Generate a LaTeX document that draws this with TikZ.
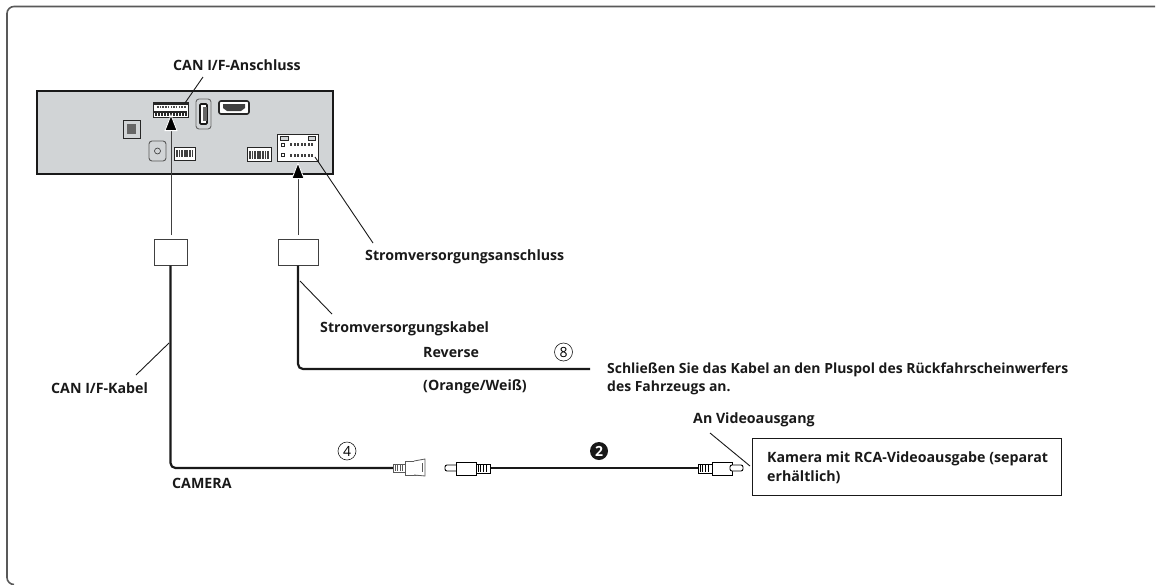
\documentclass[tikz,border=0pt]{standalone}
\usepackage{fontspec}
\setmainfont{Open Sans}
\usetikzlibrary{positioning, arrows.meta, calc}
\definecolor{panelgray}{rgb}{0.82,0.83,0.84}
\definecolor{plugline}{rgb}{0.35,0.35,0.35}
\tikzstyle{lbl}=[%
      font=\bfseries\fontsize{14.2}{19}\selectfont, inner sep=0pt, anchor=base west, text=black!90
]
\tikzstyle{hint}=[%
      lbl, font=\bfseries\fontsize{13.95}{19}\selectfont
]
\tikzstyle{cable}=[%
      draw=black!90, line width=2.2pt, rounded corners=5pt
]
\tikzstyle{leader}=[%
      draw=black!90, line width=0.9pt
]
\tikzstyle{port}=[%
      draw=black!85, fill=white, line width=0.9pt
]
\tikzstyle{clamp}=[%
      rectangle, draw=black!75, fill=white, line width=1pt, inner sep=0pt, minimum height=26pt
]
\tikzstyle{feed}=[%
      draw=black!75, line width=1pt, -{Triangle[length=17pt,width=13pt,color=white,fill=black,line width=0.8pt]}
]
\tikzstyle{ring}=[%
      circle, draw=black!90, line width=0.6pt, inner sep=0pt, minimum size=18pt,
      font=\fontsize{14}{14}\selectfont
]
\begin{document}
\begin{tikzpicture}[x=1pt, y=-1pt]
    \useasboundingbox (0,0) rectangle (1157,584);
    % only the top and left of the frame lie inside the page
    \draw[draw=black!65, line width=1.6pt, rounded corners=7pt] (1155,6.5) -- (7,6.5) -- (7,584.5) -- (14,584.5);

    % head unit
    \draw[draw=black!90, fill=panelgray, line width=1.1pt] (37,91) rectangle (333,174);
    \draw[port] (153,102) rectangle (188,117);
    \fill[black!85] (153,102) rectangle (188,104.5);
    \foreach \i in {0,...,10} \fill[black!70] (157+2.7*\i,106) rectangle +(1.5,2);
    \fill[black!85] (154,110.5) rectangle (187,113);
    \foreach \i in {0,...,10} \fill[black!85] (155+3*\i,113) rectangle +(1.8,3);
    \draw[draw=black!60, fill=panelgray, line width=0.9pt, rounded corners=3pt] (196,99) rectangle (211,129);
    \draw[draw=black!90, fill=white, line width=1.6pt, rounded corners=1pt] (200,104) rectangle (207,124);
    \fill[black!60] (203,107) rectangle (207,121);
    \draw[port, rounded corners=2pt, line width=1.6pt] (219,101) rectangle (249,114);
    \fill[black!75] (223,104) -- (245,104) -- (245,108) -- (241,111) -- (227,111) -- (223,108) -- cycle;
    \draw[port, fill=panelgray] (123,120) rectangle (140,138);
    \fill[black!60] (127,124) rectangle (136,134);
    \draw[draw=black!65, fill=panelgray, line width=0.9pt, rounded corners=3pt] (149,141) rectangle (166,161);
    \draw[black!80, line width=0.6pt] (157.5,151) circle (3);
    \draw[port] (174,147) rectangle (195,160);
    \foreach \i in {0,...,6} \fill[black!75] (176+2.6*\i,150) rectangle +(1.7,7);
    \draw[port] (247,147) rectangle (271,161);
    \foreach \i in {0,...,7} \fill[black!75] (249+2.6*\i,151) rectangle +(1.7,8);
    \draw[port] (277,134) rectangle (318,161);
    \draw[port, fill=panelgray] (280,136) rectangle (288,140);
    \draw[port, fill=panelgray] (308,136) rectangle (315,140);
    \foreach \i in {0,...,6} {
      \fill[black!75] (290+3.5*\i,143) rectangle +(2.2,2.5);
      \fill[black!75] (290+3.5*\i,154) rectangle +(2.2,2.5);
    }
    \draw[port, line width=0.5pt] (281,143) rectangle +(3,3);
    \draw[port, line width=0.5pt] (281,153) rectangle +(3,3);

    % clamps
    \node[clamp, minimum width=33pt] (canbox) at (170.5,252) {};
    \node[clamp, minimum width=40pt] (powerbox) at (298,252) {};
    \coordinate (cantip) at (171,114);
    \coordinate (powertip) at (298,162);
    \coordinate (canfoot) at (171,235);
    \coordinate (powerfoot) at (298,235);
    \draw[feed] (canfoot) -- (cantip);
    \draw[feed] (powerfoot) -- (powertip);

    % cables
    \coordinate (powerend) at (590,369);
    \coordinate (camfree) at (393,468);
    \coordinate (videostart) at (490,468);
    \coordinate (videoend) at (698,468);
    \draw[cable] (powerbox.south) -- (powerbox.south |- powerend) -- (powerend);
    \draw[cable] (canbox.south) -- (canbox.south |- camfree) -- (camfree);
    \draw[cable] (videostart) -- (videoend);

    % plugs
    \draw[draw=plugline, fill=white, line width=0.8pt] (393,464) rectangle (405,472);
    \foreach \i in {0,...,3} \draw[plugline, line width=0.6pt] (395+2.5*\i,465) -- +(0,6);
    \draw[draw=plugline, fill=white, line width=0.8pt] (405,461) rectangle (421,475);
    \draw[draw=plugline, fill=white, line width=0.8pt] (414,461) -- (425,459) -- (425,476) -- (414,475);
    \draw[draw=plugline, line width=0.8pt] (422,463) -- (422,472);
    \draw[draw=black, fill=white, line width=0.9pt, rounded corners=2pt] (445,465) rectangle (458,471);
    \draw[draw=black, fill=white, line width=0.9pt] (456,462) rectangle (476,475);
    \draw[draw=black, fill=white, line width=0.8pt] (476,464) rectangle (490,473);
    \foreach \i in {0,...,3} \draw[black, line width=0.6pt] (478+2.7*\i,465) -- +(0,7);
    \draw[draw=black, fill=white, line width=0.8pt] (698,464) rectangle (712,473);
    \foreach \i in {0,...,3} \draw[black, line width=0.6pt] (700+2.7*\i,465) -- +(0,7);
    \draw[draw=black, fill=white, line width=0.9pt] (712,462) rectangle (732,475);
    \draw[draw=black, fill=white, line width=0.9pt, rounded corners=2pt] (730,465) rectangle (743,471);

    % labels
    \node[lbl] (canport) at (173,70) {CAN I/F-Anschluss};
    \node[lbl] (powerport) at (365,260) {Stromversorgungsanschluss};
    \node[lbl] (powercable) at (320,332) {Stromversorgungskabel};
    \node[lbl] (reverse) at (423,357) {Reverse};
    \node[lbl] (orange) at (423,390) {(Orange/Weiß)};
    \node[hint] (hintone) at (607,373) {Schließen Sie das Kabel an den Pluspol des Rückfahrscheinwerfers};
    \node[hint] (hinttwo) at (607,391) {des Fahrzeugs an.};
    \node[lbl] (cancable) at (51,393) {CAN I/F-Kabel};
    \node[lbl] (camera) at (172,488) {CAMERA};
    \node[lbl] (videoout) at (693,423) {An Videoausgang};
    \node[draw=black!90, fill=white, line width=1pt, minimum width=309pt, minimum height=57pt, inner sep=0pt] (cambox) at (906.5,466.5) {};
    \node[lbl] (camone) at (767,462) {Kamera mit RCA-Videoausgabe (separat};
    \node[lbl] (camtwo) at (767,481) {erhältlich)};
    \node[ring] (four) at (347,451) {4};
    \node[ring] (eight) at (563.5,352) {8};
    \node[circle, fill=black!90, text=white, inner sep=0pt, minimum size=18pt, font=\bfseries\fontsize{14}{14}\selectfont] (two) at (599,451) {2};

    % leaders
    \coordinate (canportpin) at (185,103);
    \coordinate (powerportpin) at (315,157);
    \draw[leader] (canportpin) -- (203,77);
    \draw[leader] (powerportpin) -- (373,243);
    \draw[leader] (300,281) -- (332,314);
    \draw[leader] (169,343) -- (136,375);
    \draw[leader] (710,433) -- (750,466);
\end{tikzpicture}
\end{document}
